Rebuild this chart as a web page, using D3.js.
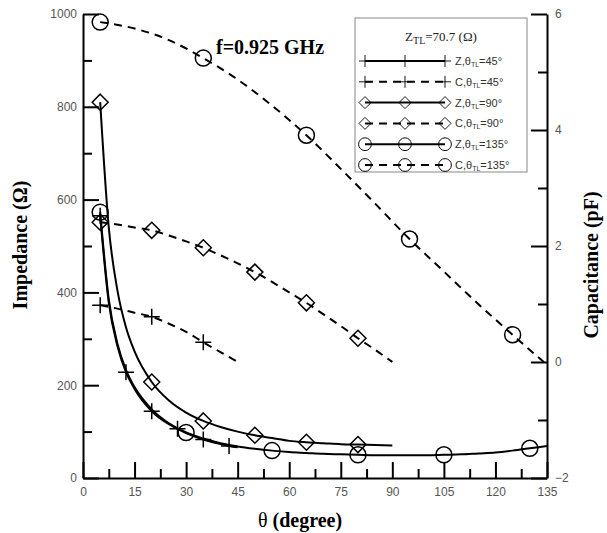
<!doctype html>
<html>
<head>
<meta charset="UTF-8">
<title>impedance capacitance</title>
<script src="https://d3js.org/d3.v7.min.js"></script>
<style>
  body { margin: 0; background: #fff; }
  .tick text { font-family: Arial, "Liberation Sans", sans-serif; font-size: 12px; fill: #555; }
  .axis path, .axis line { stroke: #000; stroke-width: 2; }
  .ttl { font-family: "Times New Roman", "Liberation Serif", serif; font-weight: bold; font-size: 20px; }
</style>
</head>
<body>
<svg width="607" height="533"></svg>
<script>
// values
var thetaZ45 = [5, 7.5, 10, 12.5, 15, 20, 25, 27.5, 30, 35, 40, 42.5, 45];
var z45 = [565, 378, 285, 228, 192, 144, 116, 106, 97, 83, 73, 69, 66];
var markZ45 = [5, 12.5, 20, 27.5, 35, 42.5];

var thetaC45 = [5, 10, 15, 20, 25, 30, 35, 40, 45];
var c45 = [0.98, 0.92, 0.85, 0.78, 0.66, 0.52, 0.34, 0.17, 0.0];
var markC45 = [5, 20, 35];

var thetaZ90 = [5, 7.5, 10, 12.5, 15, 20, 25, 30, 35, 40, 45, 50, 55, 60, 65, 70, 75, 80, 85, 90];
var z90 = [810, 540, 405, 325, 273, 207, 167, 141, 123, 110, 100, 92, 86, 80, 77, 75, 73, 72, 71, 70];
var markZ90 = [5, 20, 35, 50, 65, 80];

var thetaC90 = [5, 10, 15, 20, 25, 30, 35, 40, 45, 50, 55, 60, 65, 70, 75, 80, 85, 90];
var c90 = [2.41, 2.37, 2.32, 2.27, 2.18, 2.08, 1.97, 1.84, 1.70, 1.55, 1.38, 1.20, 1.02, 0.82, 0.62, 0.41, 0.21, 0.0];
var markC90 = [5, 20, 35, 50, 65, 80];

var thetaZ135 = [5, 7.5, 10, 12.5, 15, 20, 25, 30, 35, 40, 45, 50, 55, 60, 65, 70, 75, 80, 85, 90, 95, 100, 105, 110, 115, 120, 125, 130, 135];
var z135 = [573, 385, 290, 233, 196, 148, 118, 98, 85, 75, 68, 63, 59, 56, 54, 52, 51, 50, 49, 49, 49, 49, 50, 51, 53, 55, 59, 64, 69];
var markZ135 = [5, 30, 55, 80, 105, 130];

var thetaC135 = [5, 15, 25, 35, 45, 55, 65, 75, 85, 95, 105, 115, 125, 135];
var c135 = [5.86, 5.75, 5.55, 5.24, 4.87, 4.42, 3.91, 3.33, 2.73, 2.12, 1.56, 1.0, 0.47, -0.05];
var markC135 = [5, 35, 65, 95, 125];

var xTicks = [0, 15, 30, 45, 60, 75, 90, 105, 120, 135];
var zTicks = [0, 200, 400, 600, 800, 1000];
var cTicks = [-2, 0, 2, 4, 6];
var legendNames = ["Z,θ|=45°", "C,θ|=45°", "Z,θ|=90°", "C,θ|=90°", "Z,θ|=135°", "C,θ|=135°"];

var L = 83, R = 547, T = 14, B = 478;
var svg = d3.select("svg");

var x = d3.scaleLinear().domain([0, 135]).range([L, R]);
var yZ = d3.scaleLinear().domain([0, 1000]).range([B, T]);
var yC = d3.scaleLinear().domain([-2, 6]).range([B, T]);

// minor ticks
svg.append("g").attr("class", "axis").attr("transform", "translate(0," + B + ")")
    .call(d3.axisBottom(x).tickValues(d3.range(7.5, 135, 15)).tickSize(-9).tickFormat(""))
    .select(".domain").remove();
svg.append("g").attr("class", "axis").attr("transform", "translate(" + L + ",0)")
    .call(d3.axisLeft(yZ).tickValues(d3.range(100, 1000, 200)).tickSize(-9).tickFormat(""))
    .select(".domain").remove();
svg.append("g").attr("class", "axis").attr("transform", "translate(" + R + ",0)")
    .call(d3.axisRight(yC).tickValues([-1, 1, 3, 5]).tickSize(-9).tickFormat(""))
    .select(".domain").remove();

// major axes
svg.append("g").attr("class", "axis").attr("transform", "translate(0," + B + ")")
    .call(d3.axisBottom(x).tickValues(xTicks).tickFormat(d3.format("d")).tickSizeInner(-16).tickSizeOuter(0).tickPadding(9));
svg.append("g").attr("class", "axis").attr("transform", "translate(" + L + ",0)")
    .call(d3.axisLeft(yZ).tickValues(zTicks).tickFormat(d3.format("d")).tickSizeInner(-16).tickSizeOuter(0).tickPadding(6));
svg.append("g").attr("class", "axis").attr("transform", "translate(" + R + ",0)")
    .call(d3.axisRight(yC).tickValues(cTicks).tickFormat(d3.format("d")).tickSizeInner(-16).tickSizeOuter(0).tickPadding(8));

var line = d3.line().curve(d3.curveMonotoneX);

function marker(g, type, cx, cy) {
    if (type === "plus") {
        g.append("path").attr("d", "M" + (cx - 8) + "," + cy + "h16M" + cx + "," + (cy - 8) + "v16");
    } else if (type === "diamond") {
        g.append("path").attr("d", "M" + cx + "," + (cy - 8) + "L" + (cx + 8) + "," + cy + "L" + cx + "," + (cy + 8) + "L" + (cx - 8) + "," + cy + "Z");
    } else {
        g.append("circle").attr("cx", cx).attr("cy", cy).attr("r", 8);
    }
}

var series = [
    { t: thetaZ45, v: z45, m: markZ45, y: yZ, dash: null, sym: "plus" },
    { t: thetaC45, v: c45, m: markC45, y: yC, dash: "8,6", sym: "plus" },
    { t: thetaZ90, v: z90, m: markZ90, y: yZ, dash: null, sym: "diamond" },
    { t: thetaC90, v: c90, m: markC90, y: yC, dash: "8,6", sym: "diamond" },
    { t: thetaZ135, v: z135, m: markZ135, y: yZ, dash: null, sym: "circle" },
    { t: thetaC135, v: c135, m: markC135, y: yC, dash: "8,6", sym: "circle" }
];

series.forEach(function (s) {
    var pts = s.t.map(function (t, i) { return [x(t), s.y(s.v[i])]; });
    svg.append("path").attr("d", line(pts))
        .attr("fill", "none").attr("stroke", "#000").attr("stroke-width", 2)
        .attr("stroke-dasharray", s.dash);
    var g = svg.append("g").attr("fill", "none").attr("stroke", "#000").attr("stroke-width", 1.5);
    s.m.forEach(function (t) {
        var i = s.t.indexOf(t);
        marker(g, s.sym, x(t), s.y(s.v[i]));
    });
});

// axis titles
svg.append("text").attr("class", "ttl").attr("transform", "translate(27,245) rotate(-90)")
    .attr("text-anchor", "middle").text("Impedance (Ω)");
svg.append("text").attr("class", "ttl").attr("transform", "translate(598,265) rotate(-90)")
    .attr("text-anchor", "middle").text("Capacitance (pF)");
var xt = svg.append("text").attr("class", "ttl").attr("x", 300).attr("y", 527).attr("text-anchor", "middle");
xt.append("tspan").attr("font-weight", "normal").text("θ ");
xt.append("tspan").text("(degree)");

svg.append("text").attr("class", "ttl").attr("x", 216).attr("y", 54).attr("font-size", 21).text("f=0.925 GHz");

// legend
var lg = svg.append("g");
lg.append("rect").attr("x", 355).attr("y", 18).attr("width", 172).attr("height", 154)
    .attr("fill", "#fff").attr("stroke", "#888").attr("stroke-width", 1);
var lt = lg.append("text").attr("x", 441).attr("y", 41).attr("text-anchor", "middle")
    .attr("font-family", "'Times New Roman', 'Liberation Serif', serif").attr("font-size", 13).attr("fill", "#222");
lt.append("tspan").text("Z");
lt.append("tspan").attr("font-size", 10).attr("dy", 3).text("TL");
lt.append("tspan").attr("dy", -3).text("=70.7 (Ω)");

series.forEach(function (s, i) {
    var yy = 61 + i * 20.8;
    lg.append("path").attr("d", "M365," + yy + "H445")
        .attr("stroke", "#000").attr("stroke-width", 2).attr("stroke-dasharray", s.dash);
    var g = lg.append("g").attr("fill", "none").attr("stroke", "#000").attr("stroke-width", 1.2);
    [365, 405, 445].forEach(function (cx) {
        var sz = s.sym === "circle" ? 0.8 : 0.75;
        var gg = g.append("g").attr("transform", "translate(" + cx + "," + yy + ") scale(" + sz + ")");
        marker(gg, s.sym, 0, 0);
    });
    var parts = legendNames[i].split("|");
    var tx = lg.append("text").attr("x", 455).attr("y", yy + 4)
        .attr("font-family", "Arial, 'Liberation Sans', sans-serif").attr("font-size", 11).attr("fill", "#333");
    tx.append("tspan").text(parts[0]);
    tx.append("tspan").attr("font-size", 7).attr("dy", 2).text("TL");
    tx.append("tspan").attr("dy", -2).text(parts[1]);
});
</script>
</body>
</html>
